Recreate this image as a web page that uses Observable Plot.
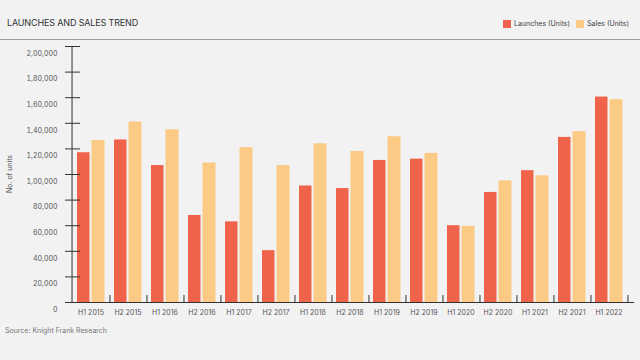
<!DOCTYPE html>
<html>
<head>
<meta charset="utf-8">
<script src="https://cdn.jsdelivr.net/npm/d3@7"></script>
<script src="https://cdn.jsdelivr.net/npm/@observablehq/plot@0.6"></script>
<style>
  html, body { margin: 0; padding: 0; background: #f2f2f3; }
  #wrap { position: relative; width: 640px; height: 360px; font-family: Inter, "Noto Sans", sans-serif; overflow: hidden; }
  #title { position: absolute; left: 7px; top: 17px; font-size: 9px; color: #333; letter-spacing: -0.15px; line-height: 12px; }
  #rule { position: absolute; left: 0; top: 39px; width: 640px; height: 1px; background: #9a9a9a; }
  #legend { position: absolute; left: 503px; top: 18px; font-size: 7px; color: #444; display: flex; align-items: center; line-height: 12px; }
  #legend .sw { display: inline-block; width: 8px; height: 8px; margin-right: 3px; }
  #legend .item { display: flex; align-items: center; margin-right: 6px; }
  #source { position: absolute; left: 5px; top: 325px; font-size: 7px; color: #777; line-height: 12px; }
  #ylabel { position: absolute; left: 9px; top: 174px; font-size: 7px; color: #555; transform: translate(-50%, -50%) rotate(-90deg); white-space: nowrap; }
  #chart { position: absolute; left: 0; top: 0; }
</style>
</head>
<body>
<div id="wrap">
  <div id="chart"></div>
  <div id="title">LAUNCHES AND SALES TREND</div>
  <div id="rule"></div>
  <div id="legend"></div>
  <div id="ylabel">No. of units</div>
  <div id="source">Source: Knight Frank Research</div>
</div>
<script>
const categories = ["H1 2015","H2 2015","H1 2016","H2 2016","H1 2017","H2 2017","H1 2018","H2 2018","H1 2019","H2 2019","H1 2020","H2 2020","H1 2021","H2 2021","H1 2022"];
const launches = [117000,127000,107000,68000,63000,40500,91000,89000,111000,112000,60000,86000,103000,129000,160500];
const sales = [126500,141000,135000,109000,121000,107000,124000,118000,129500,116500,59500,95000,99000,133500,158500];
const yTicks = [0,20000,40000,60000,80000,100000,120000,140000,160000,180000,200000];
const seriesNames = ["Launches (Units)", "Sales (Units)"];
const seriesColors = ["#ef634a", "#fbcb86"];

const data = categories.map((c, i) => ({period: c, launches: launches[i], sales: sales[i]}));

function inr(n) {
  const s = String(n);
  if (s.length <= 3) return s;
  const last3 = s.slice(-3);
  const rest = s.slice(0, -3);
  return rest.replace(/\B(?=(\d{2})+(?!\d))/g, ",") + "," + last3;
}

const W = 640, H = 360, mL = 65, mR = 6, mT = 46, mB = 58;
const step = (W - mL - mR) / categories.length;

const chart = Plot.plot({
  width: W, height: H,
  marginLeft: mL, marginRight: mR, marginTop: mT, marginBottom: mB,
  style: {background: "transparent", fontFamily: "Inter, 'Noto Sans', sans-serif", fontSize: "7px", color: "#555"},
  x: {domain: categories, padding: 0, axis: null, label: null},
  y: {domain: [0, 200000], axis: null, label: null},
  marks: [
    Plot.barY(data, {x: "period", y: "launches", fill: seriesColors[0], insetLeft: 5, insetRight: 19.5}),
    Plot.barY(data, {x: "period", y: "sales", fill: seriesColors[1], insetLeft: 19.5, insetRight: 4.5}),
    Plot.axisY({ticks: yTicks, tickSize: -15, tickFormat: () => "", stroke: "#333", label: null}),
    Plot.axisY({ticks: yTicks, tickSize: 0, tickPadding: 8, dy: 7, tickFormat: inr, fill: "#555", fontSize: 7, label: null}),
    Plot.axisX({tickSize: -7, dx: step / 2, tickFormat: () => "", stroke: "#333", label: null}),
    Plot.axisX({tickSize: 0, tickPadding: 8, fill: "#555", fontSize: 7, label: null}),
    Plot.ruleY([0], {stroke: "#333"}),
    Plot.ruleX([categories[0]], {dx: -step / 2, y1: 0, y2: 200000, stroke: "#333"})
  ]
});
document.getElementById("chart").appendChild(chart);

const legend = document.getElementById("legend");
seriesNames.forEach((name, i) => {
  const item = document.createElement("span");
  item.className = "item";
  const sw = document.createElement("span");
  sw.className = "sw";
  sw.style.background = seriesColors[i];
  item.appendChild(sw);
  item.appendChild(document.createTextNode(name));
  legend.appendChild(item);
});
</script>
</body>
</html>
